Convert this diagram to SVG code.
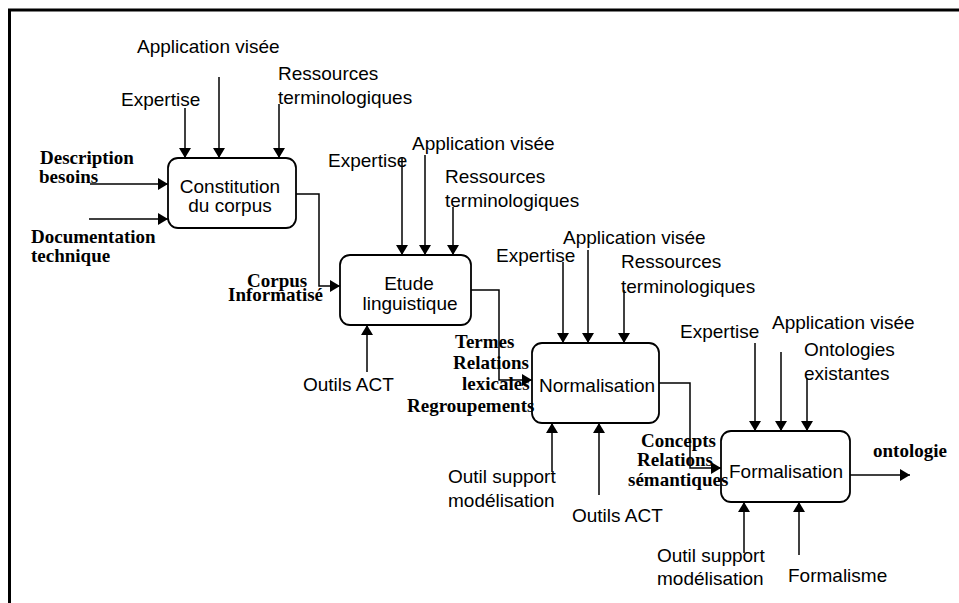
<svg xmlns="http://www.w3.org/2000/svg" width="959" height="603" viewBox="0 0 959 603">
<defs>
<marker id="ah" markerWidth="12" markerHeight="12" refX="10" refY="6" orient="auto" markerUnits="userSpaceOnUse"><path d="M0,0 L10,6 L0,12 z" fill="#000"/></marker>
<style>
.box{fill:#fff;stroke:#000;stroke-width:1.8}
.t{font-family:"Liberation Sans",Arial,sans-serif;font-size:19px;fill:#000}
.c{text-anchor:middle}
.b{font-family:"Liberation Serif","Times New Roman",serif;font-size:19px;font-weight:bold;fill:#000}
.ln{fill:none;stroke:#000;stroke-width:1.5;marker-end:url(#ah)}
</style>
</defs>
<rect width="959" height="603" fill="#fff"/>
<path d="M8,10 H959 M9.5,9 V603" fill="none" stroke="#000" stroke-width="3"/>

<g id="connectors">
<path class="ln" d="M185,108 V158"/>
<path class="ln" d="M219,77 V158"/>
<path class="ln" d="M279,104 V158"/>
<path class="ln" d="M90,184 H168"/>
<path class="ln" d="M89,219 H168"/>
<path class="ln" d="M296,194 H319 V286 H340"/>

<path class="ln" d="M402,157 V255"/>
<path class="ln" d="M425,155 V255"/>
<path class="ln" d="M453,207 V255"/>
<path class="ln" d="M367,372 V325"/>
<path class="ln" d="M471,290 H499 V380 H532"/>

<path class="ln" d="M563,262 V343"/>
<path class="ln" d="M588,250 V343"/>
<path class="ln" d="M624,290 V343"/>
<path class="ln" d="M552,472 V423"/>
<path class="ln" d="M599,495 V423"/>
<path class="ln" d="M659,383 H690 V468 H721"/>

<path class="ln" d="M755,343 V431"/>
<path class="ln" d="M781,352 V431"/>
<path class="ln" d="M807,378 V431"/>
<path class="ln" d="M744,553 V502"/>
<path class="ln" d="M799,555 V502"/>
<path class="ln" d="M850,475 H910"/>
</g>

<g id="constitution">
<rect class="box" x="168" y="158" width="128" height="70" rx="10"/>
<text class="t c" x="230" y="193">Constitution</text>
<text class="t c" x="230" y="212">du corpus</text>
</g>
<g id="etude">
<rect class="box" x="340" y="255" width="131" height="70" rx="10"/>
<text class="t c" x="409" y="290">Etude</text>
<text class="t c" x="410" y="310">linguistique</text>
</g>
<g id="normalisation">
<rect class="box" x="532" y="343" width="127" height="80" rx="10"/>
<text class="t c" x="597" y="392">Normalisation</text>
</g>
<g id="formalisation">
<rect class="box" x="721" y="431" width="129" height="71" rx="10"/>
<text class="t c" x="786" y="478">Formalisation</text>
</g>

<g id="labels">
<text class="t" x="137" y="53">Application visée</text>
<text class="t" x="121" y="106">Expertise</text>
<text class="t" x="278" y="80">Ressources</text>
<text class="t" x="278" y="104">terminologiques</text>
<text class="b" x="40" y="164">Description</text>
<text class="b" x="39" y="183">besoins</text>
<text class="b" x="31" y="243">Documentation</text>
<text class="b" x="31" y="262">technique</text>
<text class="b" x="247" y="287">Corpus</text>
<text class="b" x="228" y="301">Informatisé</text>

<text class="t" x="328" y="167">Expertise</text>
<text class="t" x="412" y="150">Application visée</text>
<text class="t" x="445" y="183">Ressources</text>
<text class="t" x="445" y="207">terminologiques</text>
<text class="t" x="303" y="391">Outils ACT</text>
<text class="b" x="455" y="348">Termes</text>
<text class="b" x="453" y="369">Relations</text>
<text class="b" x="462" y="390">lexicales</text>
<text class="b" x="407" y="412">Regroupements</text>

<text class="t" x="496" y="262">Expertise</text>
<text class="t" x="563" y="244">Application visée</text>
<text class="t" x="621" y="268">Ressources</text>
<text class="t" x="621" y="293">terminologiques</text>
<text class="t" x="448" y="483">Outil support</text>
<text class="t" x="448" y="507">modélisation</text>
<text class="t" x="572" y="522">Outils ACT</text>
<text class="b" x="641" y="447">Concepts</text>
<text class="b" x="637" y="466">Relations</text>
<text class="b" x="628" y="486">sémantiques</text>

<text class="t" x="680" y="338">Expertise</text>
<text class="t" x="772" y="329">Application visée</text>
<text class="t" x="804" y="356">Ontologies</text>
<text class="t" x="804" y="380">existantes</text>
<text class="t" x="657" y="562">Outil support</text>
<text class="t" x="657" y="585">modélisation</text>
<text class="t" x="788" y="582">Formalisme</text>
<text class="b" x="873" y="457">ontologie</text>
</g>
</svg>
